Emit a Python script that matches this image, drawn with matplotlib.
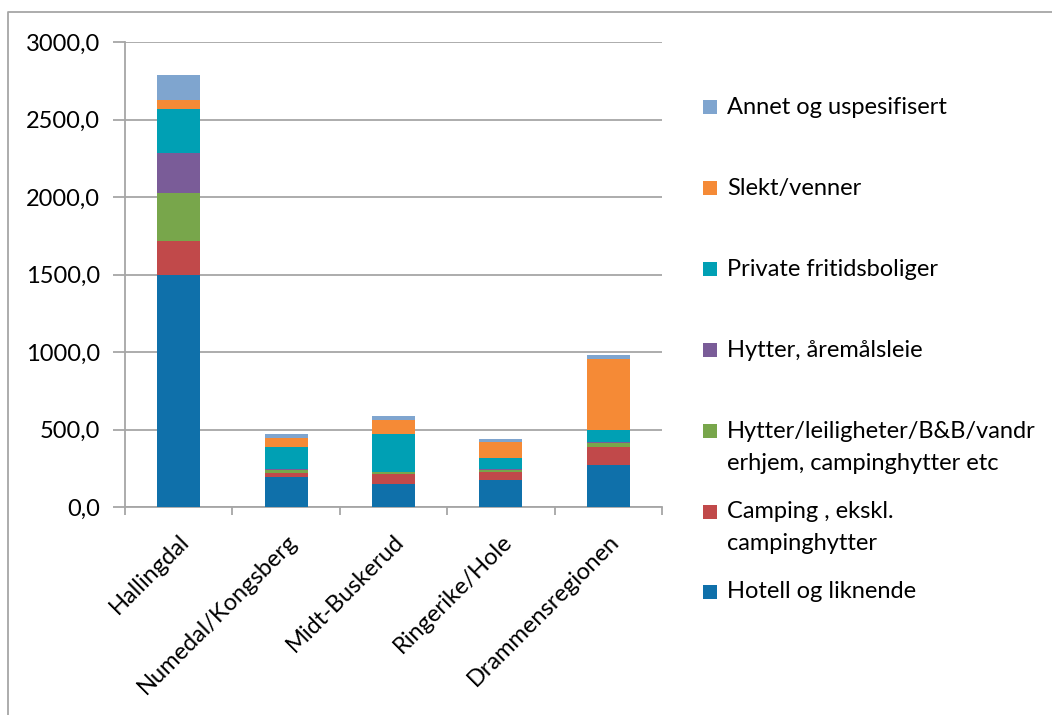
import matplotlib
matplotlib.use("Agg")
import matplotlib.pyplot as plt
from matplotlib.patches import Rectangle
from matplotlib.lines import Line2D
from matplotlib.ticker import FuncFormatter, FixedLocator
import numpy as np

plt.rcParams['font.family'] = ['Lato', 'DejaVu Sans']

regions = ["Hallingdal", "Numedal/Kongsberg", "Midt-Buskerud", "Ringerike/Hole", "Drammensregionen"]

hotell = [1499, 196, 151, 174, 273]
camping = [217, 22, 60, 52, 115]
hytter_leil = [311, 20, 15, 15, 22]
hytter_aremal = [258, 5, 3, 4, 8]
private = [282, 145, 244, 72, 79]
slekt = [60, 56, 86, 103, 459]
annet = [163, 25, 30, 20, 26]

series = [
    ("Hotell og liknende", hotell, "#0F70AA"),
    ("Camping , ekskl.\ncampinghytter", camping, "#C1494A"),
    ("Hytter/leiligheter/B&B/vandr\nerhjem, campinghytter etc", hytter_leil, "#78A64B"),
    ("Hytter, åremålsleie", hytter_aremal, "#7A5C98"),
    ("Private fritidsboliger", private, "#00A0B4"),
    ("Slekt/venner", slekt, "#F58A36"),
    ("Annet og uspesifisert", annet, "#7FA5CF"),
]

FS = 17
W, H = 1052, 715
fig = plt.figure(figsize=(W / 100, H / 100), dpi=100)
ax = fig.add_axes([125 / W, (H - 507) / H, (662 - 125) / W, (507 - 42) / H])

x = np.arange(len(regions))
bottom = np.zeros(len(regions))
for label, vals, col in series:
    vals = np.array(vals, dtype=float)
    ax.bar(x, vals, bottom=bottom, width=0.4, color=col, edgecolor="none", zorder=3)
    bottom += vals

ax.set_xlim(-0.5, len(regions) - 0.5)
ax.set_ylim(0, 3000)
ax.set_yticks(np.arange(0, 3001, 500))
ax.yaxis.set_major_formatter(FuncFormatter(lambda v, p: f"{v:.1f}".replace(".", ",")))
ax.grid(axis="y", color="#A6A6A6", linewidth=1.3, zorder=0)
for s in ["top", "right"]:
    ax.spines[s].set_visible(False)
for s in ["left", "bottom"]:
    ax.spines[s].set_color("#A6A6A6")
    ax.spines[s].set_linewidth(1.3)
ax.tick_params(axis="y", length=9, width=1.3, color="#A6A6A6", pad=9, labelsize=FS, labelcolor="black")
ax.set_xticks(x)
ax.set_xticklabels(regions, rotation=45, ha="right", rotation_mode="anchor", fontsize=FS)
ax.tick_params(axis="x", which="major", length=0, pad=17)
ax.xaxis.set_minor_locator(FixedLocator(np.arange(-0.5, len(regions), 1.0)))
ax.tick_params(axis="x", which="minor", length=6, width=1.3, color="#A6A6A6")

# Legend (manual, Excel-like spacing)
legend_rows = [
    ("Annet og uspesifisert", "#7FA5CF", [107]),
    ("Slekt/venner", "#F58A36", [188]),
    ("Private fritidsboliger", "#00A0B4", [269]),
    ("Hytter, åremålsleie", "#7A5C98", [350]),
    ("Hytter/leiligheter/B&B/vandr\nerhjem, campinghytter etc", "#78A64B", [431, 463]),
    ("Camping , ekskl.\ncampinghytter", "#C1494A", [512, 543]),
    ("Hotell og liknende", "#0F70AA", [592]),
]
for text, col, ys in legend_rows:
    y0 = ys[0]
    fig.patches.append(Rectangle((703 / W, 1 - (y0 + 7) / H), 14 / W, 14 / H,
                                 transform=fig.transFigure, facecolor=col, edgecolor="none"))
    for line, yy in zip(text.split("\n"), ys):
        fig.text(727 / W, 1 - yy / H, line, ha="left", va="center", fontsize=FS)

# outer chart border (only top and left visible, chart is cropped)
fig.lines.append(Line2D([8 / W, 8 / W, 1.0], [0.0, 1 - 12 / H, 1 - 12 / H],
                        transform=fig.transFigure, color="#A6A6A6", linewidth=1.3))

fig.savefig("out.png", dpi=100)
